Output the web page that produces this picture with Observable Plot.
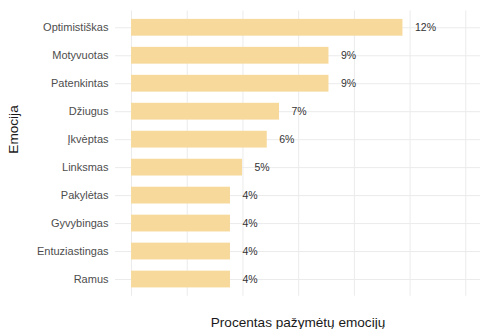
<!DOCTYPE html>
<html>
<head>
<meta charset="utf-8">
<script src="https://cdn.jsdelivr.net/npm/d3@7"></script>
<script src="https://cdn.jsdelivr.net/npm/@observablehq/plot@0.6"></script>
<style>
  html, body { margin: 0; padding: 0; background: #fff; }
</style>
</head>
<body>
<div id="chart"></div>
<script>
const categories = ["Optimistiškas", "Motyvuotas", "Patenkintas", "Džiugus", "Įkvėptas", "Linksmas", "Pakylėtas", "Gyvybingas", "Entuziastingas", "Ramus"];
const values = [12.18, 8.86, 8.86, 6.64, 6.09, 4.98, 4.44, 4.44, 4.44, 4.44];
const valueLabels = ["12%", "9%", "9%", "7%", "6%", "5%", "4%", "4%", "4%", "4%"];
const xGrid = [0, 2.5, 5, 7.5, 10, 12.5, 15];
const xTitle = "Procentas pažymėtų emocijų";
const yTitle = "Emocija";

const data = categories.map((c, i) => ({name: c, value: values[i], label: valueLabels[i]}));

const chart = Plot.plot({
  width: 480,
  height: 329,
  marginLeft: 115,
  marginRight: 0,
  marginTop: 10.5,
  marginBottom: 33.2,
  style: {fontFamily: "'Liberation Sans', Arial, sans-serif", fontSize: "11px", color: "#4d4d4d", background: "#fff"},
  x: {domain: [-0.72, 15.66], axis: null},
  y: {domain: categories, paddingInner: 0.4, paddingOuter: 0.3, round: false, tickSize: 0, tickPadding: 7, label: null},
  marks: [
    Plot.ruleX(xGrid, {stroke: "#ebebeb", strokeWidth: 1}),
    Plot.ruleY(categories, {stroke: "#ebebeb", strokeWidth: 1}),
    Plot.barX(data, {x: "value", y: "name", fill: "#f6d99b"}),
    Plot.text(data, {x: "value", y: "name", text: "label", dx: 12, textAnchor: "start", fontSize: 10.5, fill: "#333"}),
    Plot.text([xTitle], {frameAnchor: "bottom", dy: 26, lineAnchor: "middle", fontSize: 13.6, fill: "#1a1a1a"}),
    Plot.text([yTitle], {frameAnchor: "left", dx: -102, rotate: -90, lineAnchor: "middle", fontSize: 13.6, fill: "#1a1a1a"})
  ]
});
document.getElementById("chart").appendChild(chart);
</script>
</body>
</html>
